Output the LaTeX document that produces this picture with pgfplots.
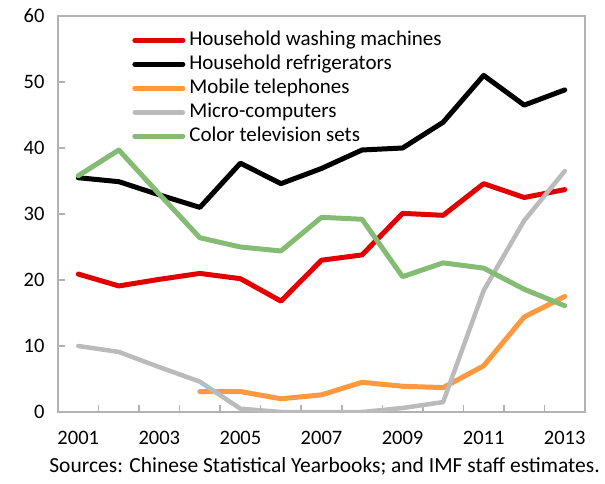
\documentclass[border=0pt]{standalone}
\usepackage{fontspec}
\setmainfont{Carlito}
\usepackage{pgfplots}
\pgfplotsset{compat=1.18}
\definecolor{cred}{RGB}{226,0,0}
\definecolor{corange}{RGB}{255,153,64}
\definecolor{cgray}{RGB}{187,187,187}
\definecolor{cgreen}{RGB}{133,188,116}
\definecolor{axisgray}{RGB}{178,178,178}
\begin{document}
\begin{tikzpicture}
\begin{axis}[
  scale only axis, width=527pt, height=396pt,
  xmin=2000.5, xmax=2013.5, ymin=0, ymax=60,
  ytick={0,10,...,60},
  xtick={2001.5,2002.5,...,2012.5}, xticklabels={},
  extra x ticks={2001,2003,...,2013},
  extra x tick labels={2001,2003,2005,2007,2009,2011,2013},
  extra x tick style={major tick length=0pt},
  axis line style={draw=axisgray, line width=1.5pt},
  tick style={draw=axisgray, line width=1.5pt},
  major tick length=7pt,
  tick align=inside,
  xtick pos=bottom, ytick pos=left,
  ticklabel style={font=\fontsize{20.5}{24}\selectfont},
  yticklabel style={xshift=-10pt},
  xticklabel style={yshift=-16pt},
  /pgf/number format/assume math mode=true,
  /pgf/number format/1000 sep={},
  legend style={draw=none, fill=none, at={(0.135,0.967)}, anchor=north west,
    font=\fontsize{21}{24}\selectfont, row sep=6pt,
    nodes={inner sep=0pt, text height=14pt, text depth=4pt},
    /tikz/every odd column/.append style={column sep=4pt}},
  legend cell align=left,
  legend image code/.code={\draw[#1] (0pt,0pt) -- (48pt,0pt);},
  every axis plot/.append style={line width=5pt, line cap=round, line join=round},
]
\addplot[cred] coordinates {(2001,20.9)(2002,19.1)(2003,20.1)(2004,21.0)(2005,20.2)(2006,16.8)(2007,23.0)(2008,23.8)(2009,30.1)(2010,29.8)(2011,34.6)(2012,32.5)(2013,33.7)};
\addlegendentry{Household washing machines}
\addplot[black] coordinates {(2001,35.5)(2002,34.9)(2003,32.9)(2004,31.0)(2005,37.7)(2006,34.6)(2007,36.9)(2008,39.7)(2009,40.0)(2010,43.9)(2011,51.0)(2012,46.5)(2013,48.8)};
\addlegendentry{Household refrigerators}
\addplot[corange] coordinates {(2004,3.1)(2005,3.1)(2006,2.0)(2007,2.6)(2008,4.5)(2009,3.9)(2010,3.7)(2011,7.0)(2012,14.4)(2013,17.5)};
\addlegendentry{Mobile telephones}
\addplot[cgray, line width=4.5pt] coordinates {(2001,10.0)(2002,9.1)(2003,6.8)(2004,4.6)(2005,0.5)(2006,0)(2007,0)(2008,0)(2009,0.6)(2010,1.5)(2011,18.4)(2012,29.0)(2013,36.5)};
\addlegendentry{Micro-computers}
\addplot[cgreen] coordinates {(2001,35.8)(2002,39.7)(2003,33.0)(2004,26.4)(2005,25.0)(2006,24.4)(2007,29.5)(2008,29.2)(2009,20.5)(2010,22.6)(2011,21.8)(2012,18.6)(2013,16.1)};
\addlegendentry{Color television sets}
\end{axis}
\node[anchor=east, font=\fontsize{21.5}{24}\selectfont, inner sep=0pt] at ([shift={(15pt,-54pt)}]current axis.south east) {Sources: Chinese Statistical Yearbooks; and IMF staff estimates.};
\path ([shift={(-58pt,-71pt)}]current axis.south west) rectangle ++(605pt,483pt);
\end{tikzpicture}
\end{document}
